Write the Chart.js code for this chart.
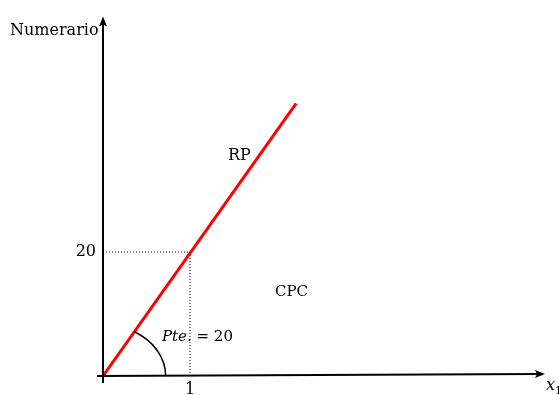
<!DOCTYPE html>
<html>
<head>
<meta charset="utf-8">
<script src="https://cdn.jsdelivr.net/npm/chart.js@4/dist/chart.umd.min.js"></script>
<style>
html,body{margin:0;padding:0;background:#fff;}
#wrap{width:559px;height:395px;position:relative;}
</style>
</head>
<body>
<div id="wrap"><canvas id="c" width="559" height="395"></canvas></div>
<script>
// Data
const rpX = [0, 2.22];
const rpY = [0, 44];
const guideX = [0, 1, 1];
const guideY = [20, 20, 0];
const xTickValues = [1];
const yTickValues = [20];
const xMax = 5.08;
const yMax = 58;
const arcRadiusX = 0.72;   // in x units
const arcRadiusY = 8.25;   // in y units

const SERIF = "'DejaVu Serif', 'Liberation Serif', serif";

const toPts = (xs, ys) => xs.map((x, i) => ({x: x, y: ys[i]}));

const overlay = {
  id: 'overlay',
  afterDatasetsDraw(chart) {
    const ctx = chart.ctx;
    const xs = chart.scales.x, ys = chart.scales.y;
    const ox = xs.getPixelForValue(0), oy = ys.getPixelForValue(0);
    const ca = chart.chartArea;
    ctx.save();
    ctx.strokeStyle = '#000';
    ctx.fillStyle = '#000';
    ctx.lineWidth = 2;
    // y axis
    ctx.beginPath();
    ctx.moveTo(ox, oy + 7);
    ctx.lineTo(ox, ca.top + 6);
    ctx.stroke();
    ctx.beginPath();
    ctx.moveTo(ox, ca.top);
    ctx.lineTo(ox - 4, ca.top + 10);
    ctx.lineTo(ox, ca.top + 8);
    ctx.lineTo(ox + 4, ca.top + 10);
    ctx.closePath();
    ctx.fill();
    // x axis (slight upward drift as in reference)
    const tipX = ca.right, tipY = oy - 2;
    ctx.beginPath();
    ctx.moveTo(ox - 6, oy);
    ctx.lineTo(tipX - 6, tipY);
    ctx.stroke();
    ctx.beginPath();
    ctx.moveTo(tipX, tipY);
    ctx.lineTo(tipX - 10, tipY - 4);
    ctx.lineTo(tipX - 8, tipY);
    ctx.lineTo(tipX - 10, tipY + 4);
    ctx.closePath();
    ctx.fill();

    // angle arc
    const ex = xs.getPixelForValue(rpX[1]), ey = ys.getPixelForValue(rpY[1]);
    const theta = Math.atan2(oy - ey, ex - ox);
    const rx = xs.getPixelForValue(arcRadiusX) - ox;
    const ry = oy - ys.getPixelForValue(arcRadiusY);
    const t = Math.atan(Math.tan(theta) * rx / ry);
    ctx.lineWidth = 1.5;
    ctx.beginPath();
    ctx.ellipse(ox, oy, rx, ry, 0, -t, 0);
    ctx.stroke();

    // labels
    ctx.textBaseline = 'middle';
    ctx.textAlign = 'left';
    ctx.font = '16px ' + SERIF;
    ctx.fillText('Numerario', 10, 31);
    ctx.fillText('RP', 228, 156);
    ctx.font = '15px ' + SERIF;
    ctx.fillText('CPC', 275, 292);
    // Pte. = 20
    ctx.font = 'italic 15px ' + SERIF;
    ctx.fillText('Pte', 162, 337);
    let w = ctx.measureText('Pte').width;
    ctx.font = '15px ' + SERIF;
    ctx.fillText('. = 20', 162 + w, 337);
    // x1
    ctx.font = 'italic 16px ' + SERIF;
    ctx.fillText('x', 546, 386);
    ctx.font = '11px ' + SERIF;
    ctx.fillText('1', 555, 391);
    ctx.restore();
  }
};

new Chart(document.getElementById('c'), {
  type: 'scatter',
  data: {
    datasets: [
      {
        data: toPts(guideX, guideY),
        showLine: true,
        borderColor: '#000',
        borderWidth: 1,
        borderDash: [1, 2],
        pointRadius: 0,
        fill: false
      },
      {
        data: toPts(rpX, rpY),
        showLine: true,
        borderColor: '#ff0000',
        borderWidth: 3,
        pointRadius: 0,
        fill: false
      }
    ]
  },
  options: {
    responsive: false,
    animation: false,
    devicePixelRatio: 1,
    layout: {padding: {top: 10, right: 14, left: 0, bottom: 0}},
    plugins: {legend: {display: false}, tooltip: {enabled: false}},
    scales: {
      x: {
        type: 'linear', min: 0, max: xMax,
        grid: {display: false, drawTicks: false},
        border: {display: false},
        afterBuildTicks: s => { s.ticks = xTickValues.map(v => ({value: v})); },
        afterFit: s => { s.height = 19; },
        ticks: {color: '#000', padding: 4, maxRotation: 0, font: {family: SERIF, size: 16}}
      },
      y: {
        type: 'linear', min: 0, max: yMax,
        grid: {display: false, drawTicks: false},
        border: {display: false},
        afterBuildTicks: s => { s.ticks = yTickValues.map(v => ({value: v})); },
        afterFit: s => { s.width = 103; },
        ticks: {color: '#000', padding: 7, font: {family: SERIF, size: 16}}
      }
    }
  },
  plugins: [overlay]
});
</script>
</body>
</html>
